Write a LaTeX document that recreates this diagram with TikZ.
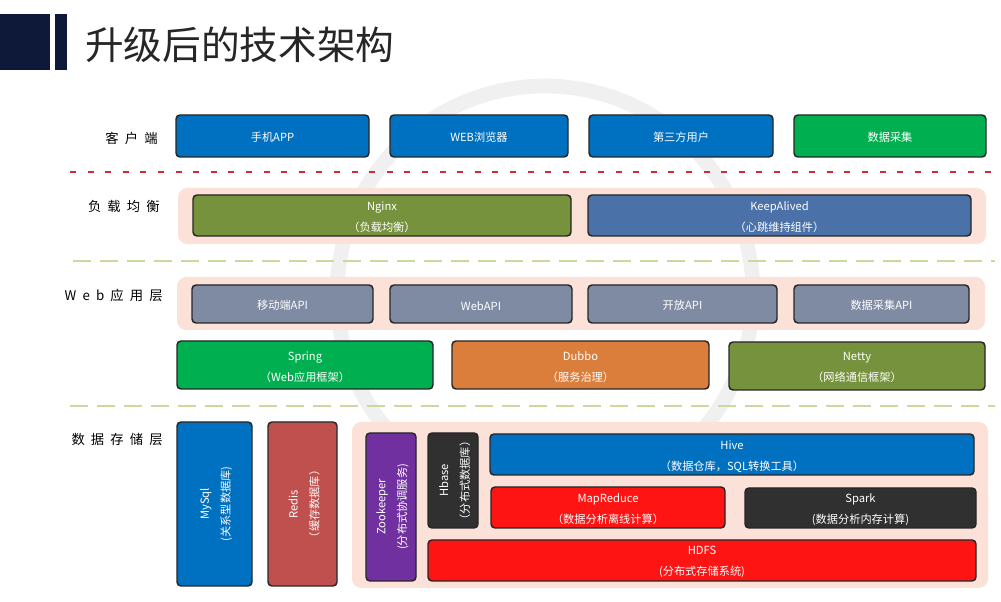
\documentclass[tikz,border=0pt]{standalone}
\usepackage{fontspec}
\usetikzlibrary{fit}
\newfontfamily\cjk{Noto Sans CJK SC}
\newfontfamily\lblfont[LetterSpace=46]{Noto Sans CJK SC}
\definecolor{navy}{HTML}{0E1838}
\definecolor{titlegray}{HTML}{262626}
\definecolor{cblue}{HTML}{0070C0}
\definecolor{cgreen}{HTML}{00B050}
\definecolor{colive}{HTML}{76923C}
\definecolor{ckeep}{HTML}{4A71A8}
\definecolor{capi}{HTML}{7F8BA3}
\definecolor{corange}{HTML}{DC7E3B}
\definecolor{credis}{HTML}{C0504D}
\definecolor{cpurple}{HTML}{7030A0}
\definecolor{cdark}{HTML}{303030}
\definecolor{cred}{HTML}{FF1414}
\definecolor{panelpink}{HTML}{FBE1D7}
\definecolor{dashred}{HTML}{D42A2A}
\definecolor{dashgreen}{HTML}{C8DA9E}
\definecolor{wmark}{HTML}{F0F0F0}
\newcommand\boxfont{\cjk\fontsize{8.4}{15.75}\selectfont}
\tikzset{
  box/.style={draw=black!85, line width=1.1pt, rounded corners=3pt, inner sep=0pt},
  btext/.style={text=white, font=\boxfont, align=center, inner sep=0pt},
  vtext/.style={rotate=90, text=white, font=\boxfont, align=center, inner sep=0pt},
  panel/.style={fill=panelpink, rounded corners=7pt, inner sep=0pt},
  rowlbl/.style={anchor=east, font=\lblfont\fontsize{10}{12}\selectfont, text=black, inner sep=0pt},
  reddash/.style={draw=dashred, line width=1.9pt, dash pattern=on 4.5pt off 8.7pt},
  greendash/.style={draw=dashgreen, line width=1.5pt, dash pattern=on 13.5pt off 6.75pt},
}
% box with centred text: name, corner1, corner2, fill, text
\newcommand\tbox[5]{%
  \node[box, fill=#4, fit={#2 #3}] (#1) {};
  \node[btext] (#1t) at ([yshift=-1.3pt]#1.center) {#5};}
\newcommand\rotbox[5]{%
  \node[box, fill=#4, fit={#2 #3}] (#1) {};
  \node[vtext] (#1t) at ([xshift=1.2pt]#1.center) {#5};}
\begin{document}
\begin{tikzpicture}[x=0.75pt,y=-0.75pt]
\useasboundingbox (0,0) rectangle (1001,602);
\fill[white] (0,0) rectangle (1001,602);
% faint watermark ring
\draw[wmark, line width=11pt] (545,294) circle[radius=208];
% title
\fill[navy] (0,14) rectangle (50,70);
\fill[navy] (55,14) rectangle (67,70);
\node[anchor=west, inner sep=0pt, font=\cjk\fontsize{29}{34}\selectfont, text=titlegray] (title) at (85,45) {升级后的技术架构};

% row labels
\node[rowlbl] (l1) at (158,138) {客户端};
\node[rowlbl] (l2) at (160,206) {负载均衡};
\node[rowlbl] (l3) at (163,295) {Web应用层};
\node[rowlbl] (l4) at (163,439) {数据存储层};

% separators
\draw[reddash] (70,172) -- (1001,172);
\draw[greendash] (73,261) -- (995,261);
\draw[greendash] (70,406) -- (995,406);

% panels
\node[panel, fit={(178,188) (986,244)}] (p1) {};
\node[panel, fit={(177,277) (985,330)}] (p2) {};
\node[panel, fit={(352,422) (988,588)}] (p3) {};

% client row
\tbox{app}{(176,115)}{(369,157)}{cblue}{手机APP}
\tbox{web}{(390,115)}{(568,157)}{cblue}{WEB浏览器}
\tbox{third}{(589,115)}{(773,157)}{cblue}{第三方用户}
\tbox{collect}{(794,115)}{(986,157)}{cgreen}{数据采集}

% load balancing
\tbox{nginx}{(193,195)}{(571,236)}{colive}{Nginx\\（负载均衡）}
\tbox{keep}{(588,195)}{(971,236)}{ckeep}{KeepAlived\\（心跳维持组件）}

% web apis
\tbox{mapi}{(192,285)}{(373,323)}{capi}{移动端API}
\tbox{wapi}{(390,285)}{(572,323)}{capi}{WebAPI}
\tbox{oapi}{(588,285)}{(777,323)}{capi}{开放API}
\tbox{dapi}{(794,285)}{(969,323)}{capi}{数据采集API}

% frameworks
\tbox{spring}{(177,341)}{(433,389)}{cgreen}{Spring\\（Web应用框架）}
\tbox{dubbo}{(452,341)}{(709,389)}{corange}{Dubbo\\（服务治理）}
\tbox{netty}{(729,342)}{(985,390)}{colive}{Netty\\（网络通信框架）}

% storage
\rotbox{mysql}{(177,422)}{(252,586)}{cblue}{MySql\\(关系型数据库)}
\rotbox{redis}{(268,422)}{(337,586)}{credis}{Redis\\（缓存数据库）}
\rotbox{zk}{(366,433)}{(416,581)}{cpurple}{Zookeeper\\(分布式协调服务)}
\rotbox{hbase}{(428,433)}{(478,528)}{cdark}{Hbase\\（分布式数据库）}
\tbox{hive}{(490,434)}{(974,475)}{cblue}{Hive\\（数据仓库，SQL转换工具）}
\tbox{mr}{(491,487)}{(725,528)}{cred}{MapReduce\\（数据分析离线计算）}
\tbox{spark}{(745,488)}{(976,528)}{cdark}{Spark\\(数据分析内存计算)}
\tbox{hdfs}{(428,540)}{(976,581)}{cred}{HDFS\\(分布式存储系统)}
\end{tikzpicture}
\end{document}
